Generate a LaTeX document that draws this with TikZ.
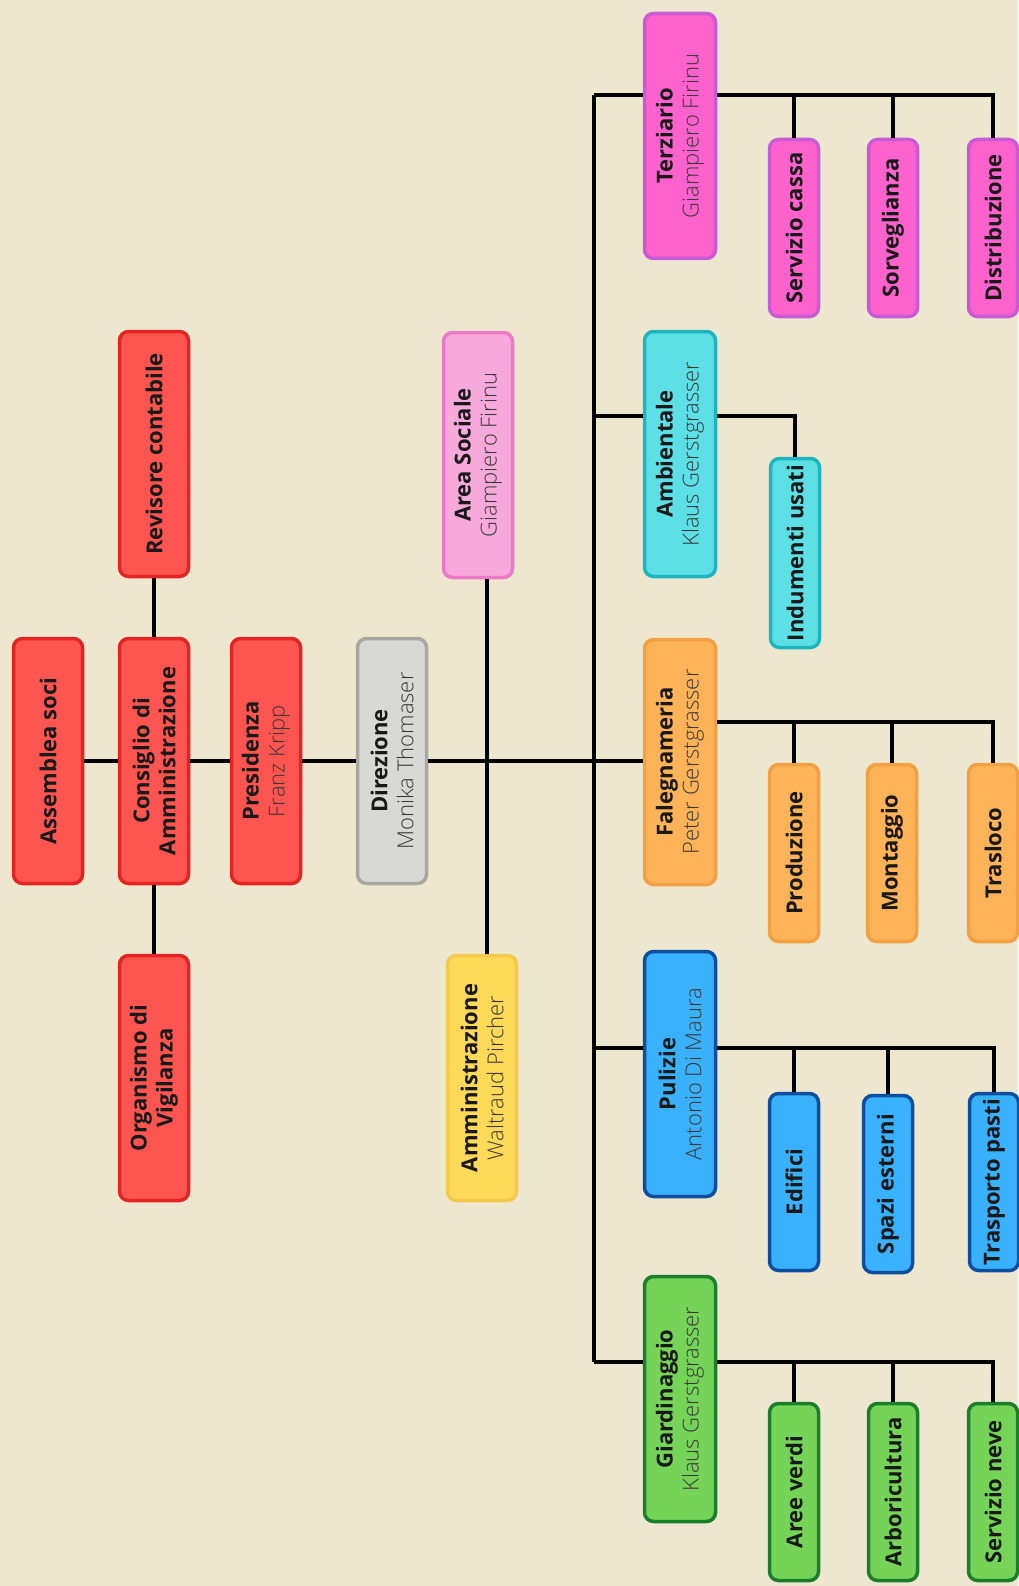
\documentclass[tikz,border=0pt]{standalone}
\usepackage{fontspec}
\setmainfont{Open Sans}
\IfFontExistsTF{Open Sans Light}{\newfontfamily\lightf{Open Sans Light}}{\newfontfamily\lightf{Open Sans}}
\definecolor{bgc}{HTML}{EDE7D0}
\definecolor{redf}{HTML}{FF5551}\definecolor{redd}{HTML}{E42421}
\definecolor{grayf}{HTML}{D8D8D6}\definecolor{grayd}{HTML}{A8A8A0}
\definecolor{pinkf}{HTML}{F8A9DC}\definecolor{pinkd}{HTML}{EE79C6}
\definecolor{yelf}{HTML}{FFD957}\definecolor{yeld}{HTML}{F6C84A}
\definecolor{magf}{HTML}{FF62CC}\definecolor{magd}{HTML}{C85AD6}
\definecolor{cyaf}{HTML}{5CE0E6}\definecolor{cyad}{HTML}{1FB5C0}
\definecolor{oraf}{HTML}{FFB359}\definecolor{orad}{HTML}{F2A043}
\definecolor{bluf}{HTML}{3AB1FF}\definecolor{blud}{HTML}{0E4E9E}
\definecolor{grnf}{HTML}{75D458}\definecolor{grnd}{HTML}{1B7E2A}
\definecolor{namec}{HTML}{3A3A3A}
\newcommand{\nm}[1]{{\lightf\color{namec}#1}}
\tikzset{
  box/.style={rotate=90, draw, line width=3.5pt, rounded corners=9pt, inner sep=0pt,
    align=center, text=black!90, font=\fontsize{22}{26}\selectfont},
  topbox/.style={box, minimum width=245pt, minimum height=69pt},
  deptbox/.style={box, minimum width=245pt, minimum height=71pt},
  kidbox/.style={box, minimum width=177pt, minimum height=49pt},
  red/.style={fill=redf, draw=redd},
  grey/.style={fill=grayf, draw=grayd},
  pinkb/.style={fill=pinkf, draw=pinkd},
  yelb/.style={fill=yelf, draw=yeld},
  magb/.style={fill=magf, draw=magd},
  cyab/.style={fill=cyaf, draw=cyad},
  orab/.style={fill=oraf, draw=orad},
  blub/.style={fill=bluf, draw=blud},
  grnb/.style={fill=grnf, draw=grnd},
  conn/.style={line width=4pt, black}
}
\begin{document}
\begin{tikzpicture}[x=1pt,y=-1pt]
\fill[bgc] (0,0) rectangle (1018,1586);
\useasboundingbox (0,0) rectangle (1018,1586);
% top level
\node[topbox,red] (asm) at (48,761) {\textbf{Assemblea soci}};
\node[topbox,red] (cons) at (154,761) {\textbf{Consiglio di}\\\textbf{Amministrazione}};
\node[topbox,red] (pres) at (266,761) {\textbf{Presidenza}\\\nm{Franz Kripp}};
\node[topbox,grey] (dir) at (392,761) {\textbf{Direzione}\\\nm{Monika Thomaser}};
\node[topbox,red] (rev) at (154,454) {\textbf{Revisore contabile}};
\node[topbox,red] (org) at (154,1078) {\textbf{Organismo di}\\\textbf{Vigilanza}};
\node[topbox,pinkb] (soc) at (478,455) {\textbf{Area Sociale}\\\nm{Giampiero Firinu}};
\node[topbox,yelb] (amm) at (482,1078) {\textbf{Amministrazione}\\\nm{Waltraud Pircher}};
% departments
\node[deptbox,magb] (terz) at (680,136) {\textbf{Terziario}\\\nm{Giampiero Firinu}};
\node[deptbox,cyab] (amb) at (680,454) {\textbf{Ambientale}\\\nm{Klaus Gerstgrasser}};
\node[deptbox,orab] (fal) at (680,762) {\textbf{Falegnameria}\\\nm{Peter Gerstgrasser}};
\node[deptbox,blub] (pul) at (680,1074) {\textbf{Pulizie}\\\nm{Antonio Di Maura}};
\node[deptbox,grnb] (gia) at (680,1399) {\textbf{Giardinaggio}\\\nm{Klaus Gerstgrasser}};
% children
\node[kidbox,magb] (t1) at (794,228) {\textbf{Servizio cassa}};
\node[kidbox,magb] (t2) at (893,228) {\textbf{Sorveglianza}};
\node[kidbox,magb] (t3) at (993,228) {\textbf{Distribuzione}};
\node[kidbox,cyab,minimum width=189pt] (a1) at (795,553) {\textbf{Indumenti usati}};
\node[kidbox,orab] (f1) at (794,853) {\textbf{Produzione}};
\node[kidbox,orab] (f2) at (892,853) {\textbf{Montaggio}};
\node[kidbox,orab] (f3) at (993,853) {\textbf{Trasloco}};
\node[kidbox,blub] (p1) at (794,1182) {\textbf{Edifici}};
\node[kidbox,blub] (p2) at (888,1184) {\textbf{Spazi esterni}};
\node[kidbox,blub] (p3) at (994,1182) {\textbf{Trasporto pasti}};
\node[kidbox,grnb] (g1) at (794,1492) {\textbf{Aree verdi}};
\node[kidbox,grnb] (g2) at (893,1492) {\textbf{Arboricultura}};
\node[kidbox,grnb] (g3) at (993,1492) {\textbf{Servizio neve}};
% coordinates
\coordinate (vx) at (487,0);
\coordinate (b1) at (594,95);
\coordinate (b2) at (594,416);
\coordinate (b4) at (594,1048);
\coordinate (b5) at (594,1362);
\coordinate (fy) at (0,722);
% connectors
\draw[conn] (asm) -- (cons);
\draw[conn] (cons) -- (pres);
\draw[conn] (pres) -- (dir);
\draw[conn] (dir.south) -- (dir.south -| fal.north);
\draw[conn] (rev) -- (cons);
\draw[conn] (cons) -- (org);
\draw[conn] (soc.west -| vx) -- (amm.east -| vx);
\draw[conn] (b1) -- (b5);
\draw[conn] (b1) -- (b1 -| terz.north);
\draw[conn] (b2) -- (b2 -| amb.north);
\draw[conn] (b4) -- (b4 -| pul.north);
\draw[conn] (b5) -- (b5 -| gia.north);
% Terziario
\draw[conn] (terz.south |- b1) -| (t3.east);
\draw[conn] (t1.east) -- (t1.east |- b1);
\draw[conn] (t2.east) -- (t2.east |- b1);
% Ambientale
\draw[conn] (amb.south |- b2) -| (a1.east);
% Falegnameria
\draw[conn] (fal.south |- fy) -| (f3.east);
\draw[conn] (f1.east) -- (f1.east |- fy);
\draw[conn] (f2.east) -- (f2.east |- fy);
% Pulizie
\draw[conn] (pul.south |- b4) -| (p3.east);
\draw[conn] (p1.east) -- (p1.east |- b4);
\draw[conn] (p2.east) -- (p2.east |- b4);
% Giardinaggio
\draw[conn] (gia.south |- b5) -| (g3.east);
\draw[conn] (g1.east) -- (g1.east |- b5);
\draw[conn] (g2.east) -- (g2.east |- b5);
\end{tikzpicture}
\end{document}
